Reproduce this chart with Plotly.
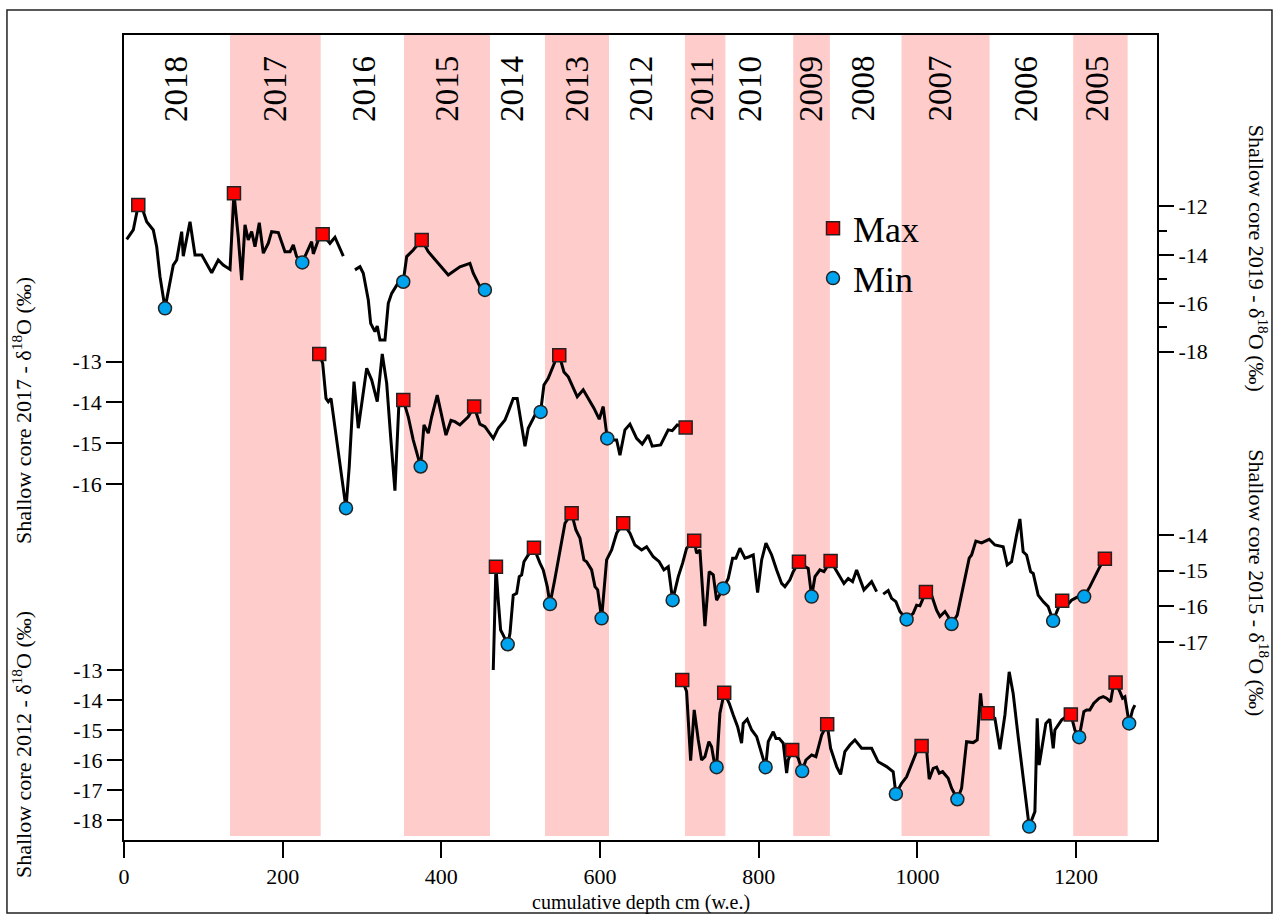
import plotly.graph_objects as go

# ---------------- data ----------------
# Shallow core 2019 (top, right axis)
DEPTH_2019 = [3.4, 11.7, 18.0, 24.3, 28.6, 36.9, 41.2, 45.4, 51.7, 55.8, 62.1, 66.4, 72.7, 74.7, 83.2, 89.5, 97.9,
              110.5, 118.8, 125.1, 133.6, 138.6, 144.0, 148.3, 152.5, 156.6, 160.9, 165.1, 170.5, 175.6, 181.9,
              186.1, 194.5, 202.9, 209.3, 213.4, 217.6, 224.7, 232.3, 236.5, 238.6, 244.9, 250.4, 259.6, 265.9,
              276.4, None, 291.1, 297.4, 301.6, 307.9, 310.9, 316.3, 319.2, 322.6, 328.9, 333.1, 337.4, 345.7,
              352.0, 356.3, 364.6, 375.2, 383.5, 394.1, 408.7, 423.4, 436.0, 440.2, 448.6, 454.9]
D18O_2019 = [-13.36, -12.97, -11.94, -12.21, -12.63, -12.97, -13.66, -14.90, -16.21, -15.45, -14.42, -14.21, -13.04,
             -14.05, -12.63, -14.00, -14.00, -14.74, -14.21, -14.42, -14.60, -11.45, -13.25, -15.04, -12.76, -13.38,
             -13.04, -13.66, -12.67, -13.93, -13.52, -13.04, -13.08, -13.87, -13.87, -13.59, -14.07, -14.31, -13.80,
             -13.45, -13.96, -13.38, -13.15, -13.52, -13.27, -14.05, None, -14.62, -14.49, -14.76, -15.86, -16.83,
             -17.17, -16.94, -17.52, -17.52, -16.00, -15.59, -15.15, -15.11, -14.07, -13.80, -13.38, -13.87, -14.28,
             -14.83, -14.49, -14.35, -14.76, -15.31, -15.45]
MAX_DEPTH_2019 = [18.0, 138.6, 250.4, 375.2]
MAX_VAL_2019 = [-11.94, -11.45, -13.15, -13.38]
MIN_DEPTH_2019 = [51.7, 224.7, 352.0, 454.9]
MIN_VAL_2019 = [-16.21, -14.31, -15.11, -15.45]

# Shallow core 2017 (left axis, upper)
DEPTH_2017 = [246.1, 250.4, 254.6, 257.5, 260.9, 265.9, 272.2, 279.8, 283.9, 289.9, 295.3, 305.9, 312.2, 319.2,
              325.5, 331.1, 336.1, 341.5, 346.6, 352.0, 358.3, 364.6, 373.9, 378.1, 383.5, 387.8, 394.8, 400.4,
              405.8, 412.1, 417.1, 423.4, 433.9, 441.3, 448.6, 454.9, 465.4, 471.7, 480.2, 484.3, 490.6, 495.6,
              505.4, 509.5, 518.0, 525.1, 529.3, 534.7, 543.2, 548.6, 554.5, 560.0, 571.3, 578.8, 592.3, 599.0,
              604.0, 609.1, 616.6, 620.9, 625.1, 631.4, 637.7, 646.1, 653.2, 660.7, 665.8, 676.4, 685.9, 691.0,
              697.3, 707.9]
D18O_2017 = [-12.81, -13.04, -13.90, -13.98, -13.90, -14.59, -15.49, -16.59, -15.57, -13.49, -14.63, -13.16, -13.45,
             -13.98, -12.81, -13.53, -14.84, -16.16, -13.98, -13.94, -14.35, -14.92, -15.57, -14.55, -14.75, -14.35,
             -13.82, -14.35, -14.80, -14.44, -14.47, -14.55, -14.35, -14.10, -14.53, -14.59, -14.88, -14.63, -14.43,
             -14.23, -13.90, -13.90, -15.07, -14.63, -14.31, -14.23, -13.57, -13.41, -13.00, -12.84, -13.25, -13.37,
             -13.86, -13.69, -14.14, -14.41, -14.10, -14.88, -14.92, -14.92, -15.29, -14.67, -14.53, -14.88, -15.02,
             -14.80, -15.07, -15.04, -14.67, -14.69, -14.55, -14.61]
MAX_DEPTH_2017 = [246.1, 352.0, 441.3, 548.6, 707.9]
MAX_VAL_2017 = [-12.81, -13.94, -14.10, -12.84, -14.61]
MIN_DEPTH_2017 = [279.8, 373.9, 525.1, 609.1]
MIN_VAL_2017 = [-16.59, -15.57, -14.23, -14.88]

# Shallow core 2015 (right axis, lower)
DEPTH_2015 = [465.4, 468.8, 471.7, 474.7, 478.0, 483.6, 486.5, 490.6, 494.9, 498.2, 501.2, 504.1, 509.5, 516.7,
              524.3, 528.4, 533.5, 536.9, 543.2, 549.5, 555.8, 564.2, 569.6, 574.7, 579.7, 583.1, 589.4, 593.6,
              597.0, 602.0, 608.3, 614.6, 620.9, 629.2, 637.7, 644.0, 652.4, 658.7, 667.1, 674.6, 680.5, 686.0,
              691.5, 698.6, 704.1, 709.1, 718.7, 721.7, 725.9, 732.2, 737.6, 742.7, 746.9, 755.3, 761.6, 767.1,
              771.3, 776.3, 782.6, 788.0, 793.1, 798.6, 803.7, 809.1, 816.3, 822.6, 828.9, 833.0, 839.3, 843.5,
              850.7, 858.3, 862.4, 866.7, 870.9, 877.1, 882.2, 890.6, 898.2, 902.3, 907.4, 912.8, 918.3, 923.4,
              927.5, 932.6, 942.3, 948.6, None, 956.9, 963.2, 967.5, 972.9, 977.9, 986.4, 994.7, 999.0, 1003.2,
              1010.7, 1017.9, 1024.2, 1028.4, 1034.7, 1038.8, 1043.1, 1050.2, 1057.7, 1065.3, 1068.3, 1073.7,
              1080.9, 1090.5, 1097.7, 1108.1, 1113.2, 1118.7, 1125.0, 1129.2, 1133.3, 1137.6, 1142.7, 1146.0,
              1152.2, 1158.5, 1164.8, 1171.1, 1177.4, 1182.5, 1188.0, 1194.3, 1202.6, 1210.2, 1217.4, 1223.7,
              1230.0, 1236.3]
D18O_2015 = [-17.79, -14.89, -15.83, -16.67, -16.81, -17.07, -16.76, -15.69, -15.64, -15.17, -15.12, -14.75, -14.56,
             -14.36, -14.79, -14.98, -15.45, -15.94, -15.22, -14.47, -13.67, -13.39, -13.86, -14.09, -14.70, -14.75,
             -14.98, -15.45, -15.54, -16.34, -14.70, -14.42, -13.95, -13.67, -13.95, -14.28, -14.42, -14.33, -14.61,
             -14.75, -14.98, -14.89, -15.83, -15.17, -14.79, -14.37, -14.16, -14.51, -14.42, -16.56, -15.03, -15.12,
             -15.83, -15.50, -15.22, -14.65, -14.65, -14.37, -14.65, -14.61, -14.56, -15.62, -14.70, -14.23, -14.56,
             -14.98, -15.36, -15.45, -15.26, -15.03, -14.75, -14.89, -14.94, -15.73, -15.17, -14.98, -15.03, -14.73,
             -15.03, -15.17, -15.36, -15.22, -15.31, -14.98, -15.22, -15.54, -15.31, -15.59, None, -15.66, -15.56,
             -15.78, -15.87, -16.15, -16.37, -16.20, -15.97, -15.99, -15.60, -15.69, -16.11, -16.29, -16.15, -16.29,
             -16.50, -16.25, -15.50, -14.65, -14.56, -14.17, -14.22, -14.12, -14.28, -14.33, -14.84, -14.75, -14.00,
             -13.55, -14.47, -14.56, -15.03, -15.08, -15.69, -15.87, -16.01, -16.41, -16.06, -15.85, -15.99, -15.83,
             -15.73, -15.73, -15.45, -15.17, -14.89, -14.67]
MAX_DEPTH_2015 = [468.8, 516.7, 564.2, 629.2, 718.7, 850.7, 890.6, 1010.7, 1182.5, 1236.3]
MAX_VAL_2015 = [-14.89, -14.36, -13.39, -13.67, -14.16, -14.75, -14.73, -15.60, -15.85, -14.67]
MIN_DEPTH_2015 = [483.6, 536.9, 602.0, 691.5, 755.3, 866.7, 986.4, 1043.1, 1171.1, 1210.2]
MIN_VAL_2015 = [-17.07, -15.94, -16.34, -15.83, -15.50, -15.73, -16.37, -16.50, -16.41, -15.73]

# Shallow core 2012 (left axis, lower)
DEPTH_2012 = [703.6, 709.1, 714.2, 718.7, 723.8, 728.0, 732.2, 737.2, 740.6, 743.5, 746.9, 751.1, 756.5, 762.8,
              767.9, 773.4, 778.4, 780.5, 785.5, 791.1, 797.4, 802.4, 805.7, 808.7, 812.0, 818.3, 821.7, 825.8,
              830.9, 835.2, 837.2, 842.2, 849.8, 854.8, 859.5, 866.7, 872.1, 879.3, 886.3, 890.6, 898.2, 903.2,
              908.6, 914.9, 921.2, 929.7, 942.3, 950.6, 961.2, 969.5, 972.9, 980.1, 986.4, 991.4, 999.0, 1005.3,
              1011.6, 1014.9, 1019.9, 1024.2, 1027.5, 1031.8, 1038.8, 1043.1, 1050.4, 1055.7, 1062.0, 1070.3,
              1075.4, 1079.6, 1082.2, 1088.5, 1097.7, 1104.0, 1110.3, 1115.7, 1120.7, 1127.0, 1133.3, 1140.9,
              1148.1, 1151.0, 1153.5, 1161.9, 1166.9, 1171.2, 1173.3, 1181.7, 1187.1, 1193.4, 1198.5, 1203.9,
              1209.8, 1213.2, 1217.4, 1222.4, 1229.1, 1234.2, 1238.4, 1243.5, 1246.8, 1249.8, 1255.2, 1258.6,
              1261.5, 1266.9, 1271.2, 1274.1]
D18O_2012 = [-13.33, -13.72, -16.02, -14.33, -15.33, -16.00, -15.89, -15.39, -15.56, -16.00, -16.24, -14.44, -13.76,
             -14.11, -14.50, -14.89, -15.44, -14.78, -14.64, -15.00, -15.22, -15.67, -16.00, -16.24, -15.39, -15.06,
             -15.28, -15.28, -15.44, -16.44, -16.00, -15.67, -15.94, -16.37, -16.00, -15.83, -15.89, -15.17, -14.81,
             -15.61, -16.22, -16.48, -15.72, -15.50, -15.33, -15.61, -15.61, -16.06, -16.22, -16.39, -17.13, -16.78,
             -16.56, -16.20, -15.72, -15.53, -15.67, -16.64, -16.28, -16.24, -16.44, -16.39, -16.61, -16.94, -17.31,
             -16.94, -15.39, -15.42, -15.33, -13.78, -14.47, -14.44, -14.61, -15.64, -14.50, -13.06, -13.78, -15.22,
             -16.56, -18.22, -17.72, -14.61, -16.17, -14.78, -14.64, -15.61, -15.00, -14.67, -14.56, -14.48, -15.00,
             -15.24, -14.39, -14.33, -14.33, -14.11, -13.94, -13.89, -13.94, -14.06, -13.56, -13.42, -13.72, -13.94,
             -13.89, -14.78, -14.33, -14.17]
MAX_DEPTH_2012 = [703.6, 756.5, 842.2, 886.3, 1005.3, 1088.5, 1193.4, 1249.8]
MAX_VAL_2012 = [-13.33, -13.76, -15.67, -14.81, -15.53, -14.44, -14.48, -13.42]
MIN_DEPTH_2012 = [746.9, 808.7, 854.8, 972.9, 1050.4, 1140.9, 1203.9, 1266.9]
MIN_VAL_2012 = [-16.24, -16.24, -16.37, -17.13, -17.31, -18.22, -15.24, -14.78]

# year bands (shaded, odd years) and year labels
BAND_START = [133.6, 352.9, 530.6, 707.0, 843.5, 980.0, 1196.4]
BAND_END = [247.9, 461.3, 611.3, 758.0, 889.7, 1091.0, 1265.0]
YEARS = ["2018", "2017", "2016", "2015", "2014", "2013", "2012", "2011", "2010", "2009", "2008", "2007", "2006", "2005"]
YEAR_DEPTH = [65.5, 190.3, 302.5, 407, 489, 571, 651.5, 728, 789, 866, 931, 1028, 1137, 1226]

X_TICKS = [0, 200, 400, 600, 800, 1000, 1200]
Y_TICKS_2019 = [-12, -14, -16, -18]
Y_MINOR_2019 = [-13, -15, -17]
Y_TICKS_2017 = [-13, -14, -15, -16]
Y_TICKS_2015 = [-14, -15, -16, -17]
Y_TICKS_2012 = [-13, -14, -15, -16, -17, -18]

for a, b in [(DEPTH_2019, D18O_2019), (DEPTH_2017, D18O_2017), (DEPTH_2015, D18O_2015), (DEPTH_2012, D18O_2012)]:
    assert len(a) == len(b)

# ---------------- figure ----------------
FONT = "Liberation Serif, Times New Roman, Times, serif"
MAXC = "#FF0000"
MINC = "#00A3EE"

fig = go.Figure()

cores = [
    ("y2", DEPTH_2019, D18O_2019, MAX_DEPTH_2019, MAX_VAL_2019, MIN_DEPTH_2019, MIN_VAL_2019),
    ("y", DEPTH_2017, D18O_2017, MAX_DEPTH_2017, MAX_VAL_2017, MIN_DEPTH_2017, MIN_VAL_2017),
    ("y3", DEPTH_2015, D18O_2015, MAX_DEPTH_2015, MAX_VAL_2015, MIN_DEPTH_2015, MIN_VAL_2015),
    ("y4", DEPTH_2012, D18O_2012, MAX_DEPTH_2012, MAX_VAL_2012, MIN_DEPTH_2012, MIN_VAL_2012),
]

for ya, d, v, *_ in cores:
    fig.add_trace(go.Scatter(x=d, y=v, yaxis=ya, mode="lines", connectgaps=False,
                             line=dict(color="black", width=3), showlegend=False, hoverinfo="skip"))

for i, (ya, d, v, mxd, mxv, mnd, mnv) in enumerate(cores):
    fig.add_trace(go.Scatter(x=mxd, y=mxv, yaxis=ya, mode="markers", name="Max", legendgroup="max",
                             showlegend=(i == 0), cliponaxis=False,
                             marker=dict(symbol="square", size=13, color=MAXC, line=dict(color="#222", width=1.5))))
    fig.add_trace(go.Scatter(x=mnd, y=mnv, yaxis=ya, mode="markers", name="Min", legendgroup="min",
                             showlegend=(i == 0), cliponaxis=False,
                             marker=dict(symbol="circle", size=13, color=MINC, line=dict(color="#222", width=1.5))))

shapes = []
for s, e in zip(BAND_START, BAND_END):
    shapes.append(dict(type="rect", xref="x", yref="paper", x0=s, x1=e, y0=0.005, y1=1,
                       fillcolor="#FFCCCC", line=dict(width=0), layer="below"))
# outer figure frame
shapes.append(dict(type="rect", xref="paper", yref="paper", x0=-0.1133, x1=1.1113, y0=-0.0907, y1=1.0311,
                   line=dict(color="#222", width=1.5), fillcolor="rgba(0,0,0,0)", layer="above"))

annotations = []
for yr, dp in zip(YEARS, YEAR_DEPTH):
    annotations.append(dict(x=dp, y=0.933, xref="x", yref="paper", text=yr, textangle=-90, showarrow=False,
                            font=dict(family=FONT, size=33, color="black"), xanchor="center", yanchor="middle"))

title_font = dict(family=FONT, size=22, color="black")
annotations += [
    dict(x=-0.0987, y=0.533, xref="paper", yref="paper", textangle=-90, showarrow=False, font=title_font,
         text="Shallow core 2017 - δ<sup>18</sup>O (‰)", xanchor="center", yanchor="middle"),
    dict(x=-0.0987, y=0.118, xref="paper", yref="paper", textangle=-90, showarrow=False, font=title_font,
         text="Shallow core 2012 - δ<sup>18</sup>O (‰)", xanchor="center", yanchor="middle"),
    dict(x=1.098, y=0.723, xref="paper", yref="paper", textangle=90, showarrow=False, font=title_font,
         text="Shallow core 2019 - δ<sup>18</sup>O (‰)", xanchor="center", yanchor="middle"),
    dict(x=1.098, y=0.320, xref="paper", yref="paper", textangle=90, showarrow=False, font=title_font,
         text="Shallow core 2015 - δ<sup>18</sup>O (‰)", xanchor="center", yanchor="middle"),
    dict(x=0.5, y=-0.078, xref="paper", yref="paper", showarrow=False,
         font=dict(family=FONT, size=20, color="black"),
         text="cumulative depth cm (w.e.)", xanchor="center", yanchor="middle"),
]

tickfont = dict(family=FONT, size=22, color="black")


def yax(rng, ticks, side, overlay=None, showline=False, minor=None):
    ax = dict(range=rng, tickmode="array", tickvals=ticks, ticktext=[str(t) for t in ticks], side=side,
              ticks="outside", ticklen=16, tickwidth=1.5, tickcolor="black", tickfont=tickfont,
              showgrid=False, zeroline=False, showline=showline, linecolor="black", linewidth=1.5,
              mirror=showline, fixedrange=True)
    if overlay:
        ax["overlaying"] = overlay
    if minor:
        ax["minor"] = dict(tickmode="array", tickvals=minor, ticks="outside", ticklen=9, tickwidth=1.5,
                           tickcolor="black", showgrid=False)
    return ax


fig.update_layout(
    width=1275, height=918,
    margin=dict(l=124, r=118, t=35, b=78),
    paper_bgcolor="white", plot_bgcolor="white",
    font=dict(family=FONT, color="black"),
    xaxis=dict(range=[0, 1302], tickmode="array", tickvals=X_TICKS, ticktext=[str(t) for t in X_TICKS],
               ticks="outside", ticklen=16, tickwidth=1.5, tickcolor="black", tickfont=tickfont,
               showgrid=False, zeroline=False, showline=True, linecolor="black", linewidth=1.5, mirror=True),
    yaxis=yax([-24.723, -4.993], Y_TICKS_2017, "left", showline=True),
    yaxis2=yax([-38.18, -4.913], Y_TICKS_2019, "right", overlay="y", minor=Y_MINOR_2019),
    yaxis3=yax([-22.567, 0.045], Y_TICKS_2015, "right", overlay="y"),
    yaxis4=yax([-18.667, 8.167], Y_TICKS_2012, "left", overlay="y"),
    shapes=shapes,
    annotations=annotations,
    showlegend=True,
    legend=dict(x=0.667, y=0.797, xanchor="left", yanchor="top", bgcolor="rgba(0,0,0,0)",
                font=dict(family=FONT, size=36, color="black"), itemsizing="trace", tracegroupgap=0),
)

fig.write_html("out.html")
